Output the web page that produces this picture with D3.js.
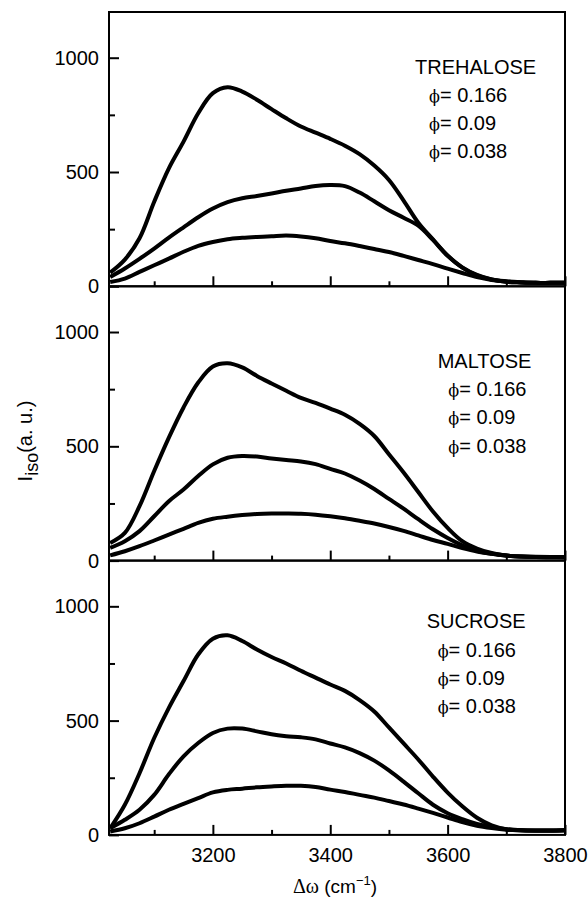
<!DOCTYPE html>
<html>
<head>
<meta charset="utf-8">
<script src="https://cdn.jsdelivr.net/npm/d3@7"></script>
<style>
body { margin: 0; background: #fff; }
text { font-family: "Liberation Sans", Arial, sans-serif; fill: #000; }
</style>
</head>
<body>
<div id="chart"></div>
<script>
// wavenumber shift (cm-1)
const wavenumbers = [3025, 3050, 3075, 3100, 3125, 3150, 3175, 3200, 3225, 3250, 3275, 3300, 3325, 3350, 3375, 3400,
    3425, 3450, 3475, 3500, 3525, 3550, 3575, 3600, 3625, 3650, 3675, 3700, 3725, 3750, 3775, 3800];

const panelNames = ["TREHALOSE", "MALTOSE", "SUCROSE"];
const phiLabels = ["0.166", "0.09", "0.038"];

// I_iso (a. u.)
const trehalose166 = [60, 117, 210, 370, 516, 633, 757, 845, 871, 852, 816, 775, 735, 699, 672, 645,
    615, 578, 528, 465, 375, 278, 205, 135, 83, 50, 30, 20, 17, 15, 15, 15];
const trehalose09 = [41, 78, 120, 165, 213, 258, 302, 340, 368, 385, 395, 406, 418, 428, 439, 443,
    438, 410, 372, 333, 300, 265, 203, 133, 82, 48, 30, 20, 17, 15, 15, 15];
const trehalose038 = [19, 34, 63, 92, 121, 151, 177, 194, 206, 212, 216, 219, 222, 218, 210, 198,
    188, 176, 163, 150, 133, 115, 97, 77, 58, 40, 28, 22, 18, 15, 15, 15];

const maltose166 = [77, 121, 238, 392, 538, 670, 779, 849, 863, 845, 808, 775, 743, 712, 690, 665,
    638, 598, 545, 465, 385, 300, 215, 143, 85, 53, 33, 22, 18, 17, 16, 15];
const maltose09 = [56, 85, 129, 194, 260, 311, 370, 421, 450, 458, 455, 447, 440, 434, 422, 401,
    381, 350, 313, 270, 227, 181, 137, 99, 67, 43, 30, 22, 18, 16, 15, 15];
const maltose038 = [23, 41, 63, 88, 114, 139, 165, 183, 192, 199, 204, 206, 206, 205, 201, 194,
    185, 174, 162, 147, 130, 110, 90, 73, 55, 40, 30, 22, 18, 16, 15, 15];

const sucrose166 = [29, 132, 270, 424, 556, 673, 789, 858, 873, 848, 811, 778, 750, 718, 688, 658,
    630, 590, 540, 470, 400, 330, 255, 185, 125, 75, 42, 25, 20, 18, 18, 20];
const sucrose09 = [29, 66, 110, 175, 265, 344, 402, 446, 465, 465, 453, 440, 432, 427, 418, 400,
    383, 358, 325, 282, 233, 182, 132, 95, 69, 48, 34, 25, 20, 19, 19, 20];
const sucrose038 = [15, 29, 51, 80, 110, 136, 161, 186, 197, 202, 208, 212, 215, 215, 210, 198,
    188, 175, 163, 148, 133, 115, 96, 76, 56, 40, 30, 23, 20, 19, 19, 20];

const xMajorTicks = [3200, 3400, 3600, 3800];
const xMinorTicks = [3100, 3300, 3500, 3700];
const yMajorTicks = [0, 500, 1000];
const yMinorTicks = [250, 750];

const panelSeries = [
    [trehalose166, trehalose09, trehalose038],
    [maltose166, maltose09, maltose038],
    [sucrose166, sucrose09, sucrose038]
];

// layout
const width = 588, height = 899;
const plotLeft = 109, plotRight = 565, plotTop = 12, panelH = 274.3;
// legend placement inside each panel (offsets from panel top)
const legendPos = [
    {tx: 415, ty: 62, px: 429, py: [89.7, 118, 146.3]},
    {tx: 437.7, ty: 81.4, px: 448.3, py: [109.7, 138, 166.2]},
    {tx: 426.7, ty: 67.7, px: 437.7, py: [96, 124.4, 152.7]}
];

const svg = d3.select("#chart").append("svg")
    .attr("width", width)
    .attr("height", height);

const x = d3.scaleLinear().domain([3023, 3800]).range([plotLeft, plotRight]);

const line = d3.line()
    .x(function(d) { return x(d.w); })
    .curve(d3.curveCatmullRom.alpha(0.5));

panelSeries.forEach(function(series, i) {
    let y0 = plotTop + i * panelH;
    let y = d3.scaleLinear().domain([0, 1200]).range([y0 + panelH, y0]);
    let g = svg.append("g").attr("class", "panel");

    // curves
    series.forEach(function(vals) {
        let pts = vals.map(function(v, k) { return {w: wavenumbers[k], v: v}; });
        line.y(function(d) { return y(d.v); });
        g.append("path")
            .attr("d", line(pts))
            .attr("fill", "none")
            .attr("stroke", "#000")
            .attr("stroke-width", 4)
            .attr("stroke-linejoin", "round");
    });

    // y axis ticks (inward)
    let yAx = g.append("g")
        .attr("transform", "translate(" + plotLeft + ",0)")
        .call(d3.axisLeft(y).tickValues(yMajorTicks).tickSize(-10).tickPadding(10).tickFormat(d3.format("d")));
    yAx.select(".domain").remove();
    yAx.selectAll("line").attr("stroke-width", 2);
    yAx.selectAll("text").style("font-size", "20px").attr("font-family", null);

    let yMin = g.append("g")
        .attr("transform", "translate(" + plotLeft + ",0)")
        .call(d3.axisLeft(y).tickValues(yMinorTicks).tickSize(-6).tickFormat(""));
    yMin.select(".domain").remove();
    yMin.selectAll("line").attr("stroke-width", 2);

    // x axis ticks (inward, upward)
    let xAx = g.append("g")
        .attr("transform", "translate(0," + (y0 + panelH) + ")")
        .call(d3.axisBottom(x).tickValues(xMajorTicks).tickSize(-10).tickPadding(13)
            .tickFormat(i === 2 ? d3.format("d") : ""));
    xAx.select(".domain").remove();
    xAx.selectAll("line").attr("stroke-width", 2);
    xAx.selectAll("text").style("font-size", "20px").attr("font-family", null);

    let xMin = g.append("g")
        .attr("transform", "translate(0," + (y0 + panelH) + ")")
        .call(d3.axisBottom(x).tickValues(xMinorTicks).tickSize(-5).tickFormat(""));
    xMin.select(".domain").remove();
    xMin.selectAll("line").attr("stroke-width", 2);

    // frame
    g.append("rect")
        .attr("x", plotLeft).attr("y", y0)
        .attr("width", plotRight - plotLeft).attr("height", panelH)
        .attr("fill", "none")
        .attr("stroke", "#000")
        .attr("stroke-width", 2);

    // legend text
    let lp = legendPos[i];
    g.append("text")
        .attr("x", lp.tx).attr("y", y0 + lp.ty)
        .style("font-size", "20px")
        .text(panelNames[i]);
    phiLabels.forEach(function(lab, k) {
        let t = g.append("text")
            .attr("x", lp.px).attr("y", y0 + lp.py[k])
            .style("font-size", "20px");
        t.append("tspan")
            .style("font-family", "'DejaVu Serif', 'Liberation Serif', serif")
            .style("font-size", "16px")
            .text("\u03D5");
        t.append("tspan").text("= " + lab);
    });
});

// y label
let yl = svg.append("text")
    .attr("transform", "translate(32,441) rotate(-90)")
    .attr("text-anchor", "middle")
    .style("font-size", "20px");
yl.append("tspan").text("I");
yl.append("tspan").attr("dy", 6).style("font-size", "18px").text("iso");
yl.append("tspan").attr("dy", -6).text("(a. u.)");

// x label
let xl = svg.append("text")
    .attr("x", 335).attr("y", 893)
    .attr("text-anchor", "middle")
    .style("font-size", "19px");
xl.append("tspan")
    .style("font-family", "'Liberation Serif', 'DejaVu Serif', serif")
    .style("font-size", "20px")
    .text("\u0394\u03C9");
xl.append("tspan").text(" (cm");
xl.append("tspan").attr("dy", -8).style("font-size", "13px").text("\u22121");
xl.append("tspan").attr("dy", 8).text(")");
</script>
</body>
</html>
